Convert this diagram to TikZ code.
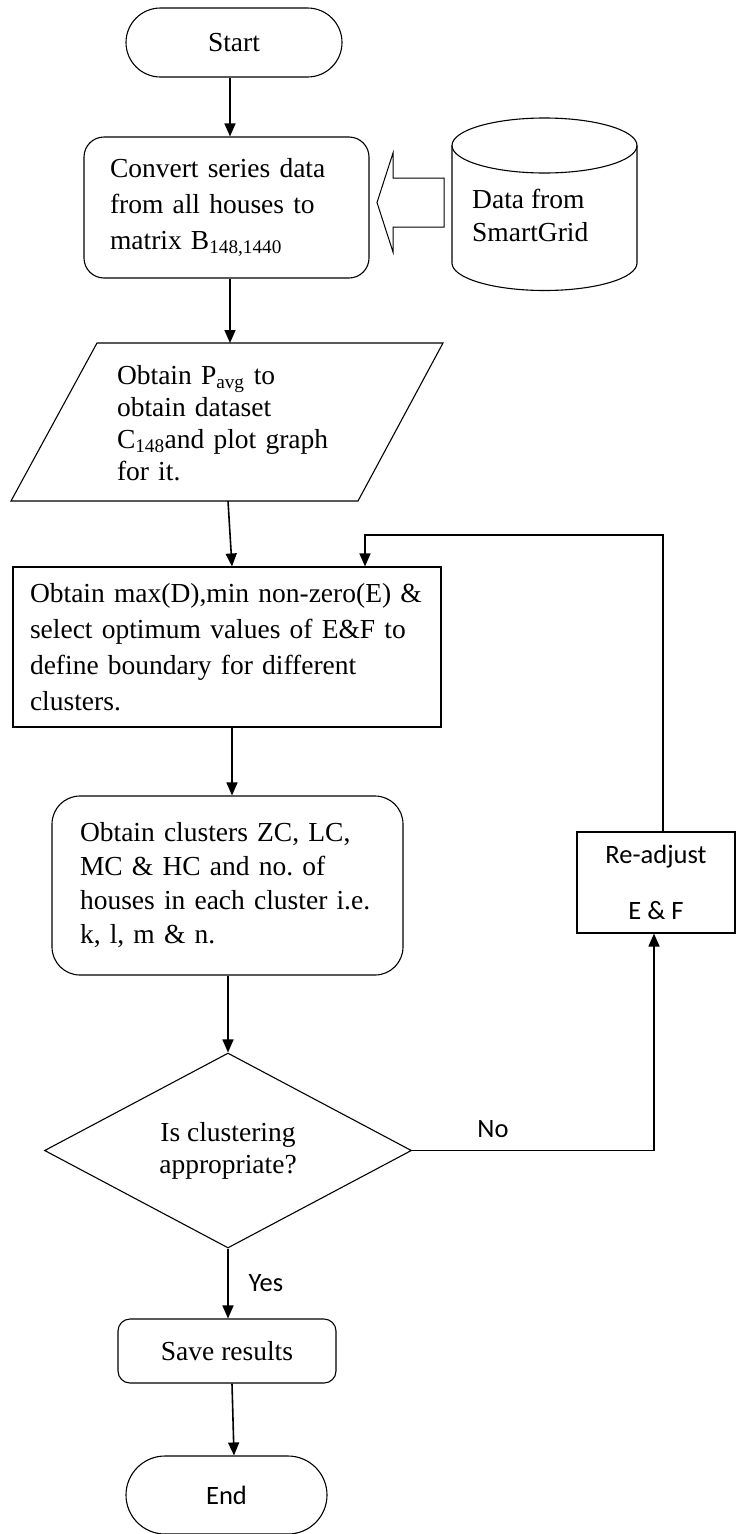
\documentclass[tikz,border=0pt]{standalone}
\usepackage{fontspec}
\setmainfont{Liberation Serif}
\newfontfamily\calfont{Carlito}
\usetikzlibrary{shapes.geometric,arrows.meta}
\begin{document}
\frenchspacing
\begin{tikzpicture}[x=1pt,y=-1pt,
  shp/.style={draw, line width=1.1pt},
  box/.style={shp, font=\fontsize{27.5}{36}\selectfont, align=left},
  arr/.style={line width=1.6pt, -{Triangle[length=13pt,width=11pt]}},
  lbl/.style={font=\calfont\fontsize{26.5}{32}\selectfont}]
\useasboundingbox (0,0) rectangle (736,1534);

% Start
\node[shp, rounded corners=34.5pt, minimum width=216pt, minimum height=69pt,
      font=\fontsize{27.5}{33}\selectfont] (start) at (234,42.5) {Start};

% Convert
\node[box, rounded corners=20pt, minimum width=285pt, minimum height=141pt,
      text width=233pt, inner xsep=26pt] (conv) at (226.5,207.5)
  {Convert series data\\from all houses to\\matrix B\textsubscript{148,1440}};

% Cylinder (data source)
\draw[shp] (544.5,145.5) ellipse [x radius=92.5, y radius=27.5];
\draw[shp] (452,145.5) -- (452,263) arc[start angle=180, end angle=0, x radius=92.5, y radius=27.5] -- (637,145.5);
\node[font=\fontsize{27.5}{33}\selectfont, align=left, anchor=west, inner sep=0pt] (data) at (472,215)
  {Data from\\SmartGrid};

% Block arrow
\draw[line width=1pt] (377,202.5) -- (393,153) -- (393,178) -- (444,178) -- (444,227) -- (393,227) -- (393,252) -- cycle;

% Parallelogram
\draw[shp] (97,343) -- (443,343) -- (358,501) -- (11,501) -- cycle;
\coordinate (paratop) at (230,343);
\coordinate (parabot) at (228,501);
\node[font=\fontsize{27.5}{32}\selectfont, align=left, text width=222pt, inner sep=0pt] (paratext) at (228,423)
  {Obtain P\textsubscript{avg} to\\obtain dataset\\C\textsubscript{148}and plot graph\\for it.};

% Rectangle
\node[box, minimum width=428pt, minimum height=160pt, text width=394pt, inner xsep=17pt] (rect) at (227,647)
  {Obtain max(D),min non-zero(E) \&\\select optimum values of E\&F to\\define boundary for different\\clusters.};

% Clusters
\node[box, rounded corners=28pt, minimum width=351pt, minimum height=179pt,
      text width=295pt, inner xsep=28pt, font=\fontsize{27.5}{34}\selectfont] (clus) at (227.5,885.5)
  {Obtain clusters ZC, LC,\\MC \& HC and no. of\\houses in each cluster i.e.\\k, l, m \& n.};

% Decision
\node[shp, diamond, aspect=1.88, inner sep=0pt, minimum width=367pt, minimum height=195pt,
      align=center, font=\fontsize{27.5}{32}\selectfont] (dia) at (228,1150.5)
  {Is clustering\\appropriate?};

% Re-adjust
\node[shp, minimum width=158pt, minimum height=101pt, align=center,
      font=\calfont\fontsize{26.5}{56}\selectfont] (readj) at (656,882.5)
  {Re-adjust\\E \& F};

% Save results
\node[shp, rounded corners=12pt, minimum width=218pt, minimum height=64pt,
      font=\fontsize{27.5}{33}\selectfont] (save) at (227,1351) {Save results};

% End
\node[shp, rounded corners=39pt, minimum width=201pt, minimum height=78pt,
      font=\calfont\fontsize{26.5}{32}\selectfont] (end) at (226.5,1495) {End};

% axes for connectors
\coordinate (axa) at (230,0);
\coordinate (axb) at (232,0);
\coordinate (axc) at (234,0);
\coordinate (axno) at (654,0);
\coordinate (axup) at (663,0);
\coordinate (loopc) at (365,535);

% Connectors
\draw[arr] (start.south -| axa) -- (conv.north -| axa);
\draw[arr] (conv.south -| axa) -- (paratop);
\draw[arr] (parabot) -- (rect.north -| axb);
\draw[arr] (rect.south -| axb) -- (clus.north -| axb);
\draw[arr] (clus.south -| dia.north) -- (dia.north);
\draw[arr] (dia.south) -- (save.north -| dia.south);
\node[lbl, anchor=west] (yes) at (245,1283) {Yes};
\draw[arr] (save.south -| axb) -- (end.north -| axc);
\draw[arr] (dia.east) -- (dia.east -| axno) -- (readj.south -| axno);
\node[lbl] (no) at (493,1129) {No};
\draw[arr] (readj.north -| axup) |- (loopc) -- (rect.north -| loopc);
\end{tikzpicture}
\end{document}
